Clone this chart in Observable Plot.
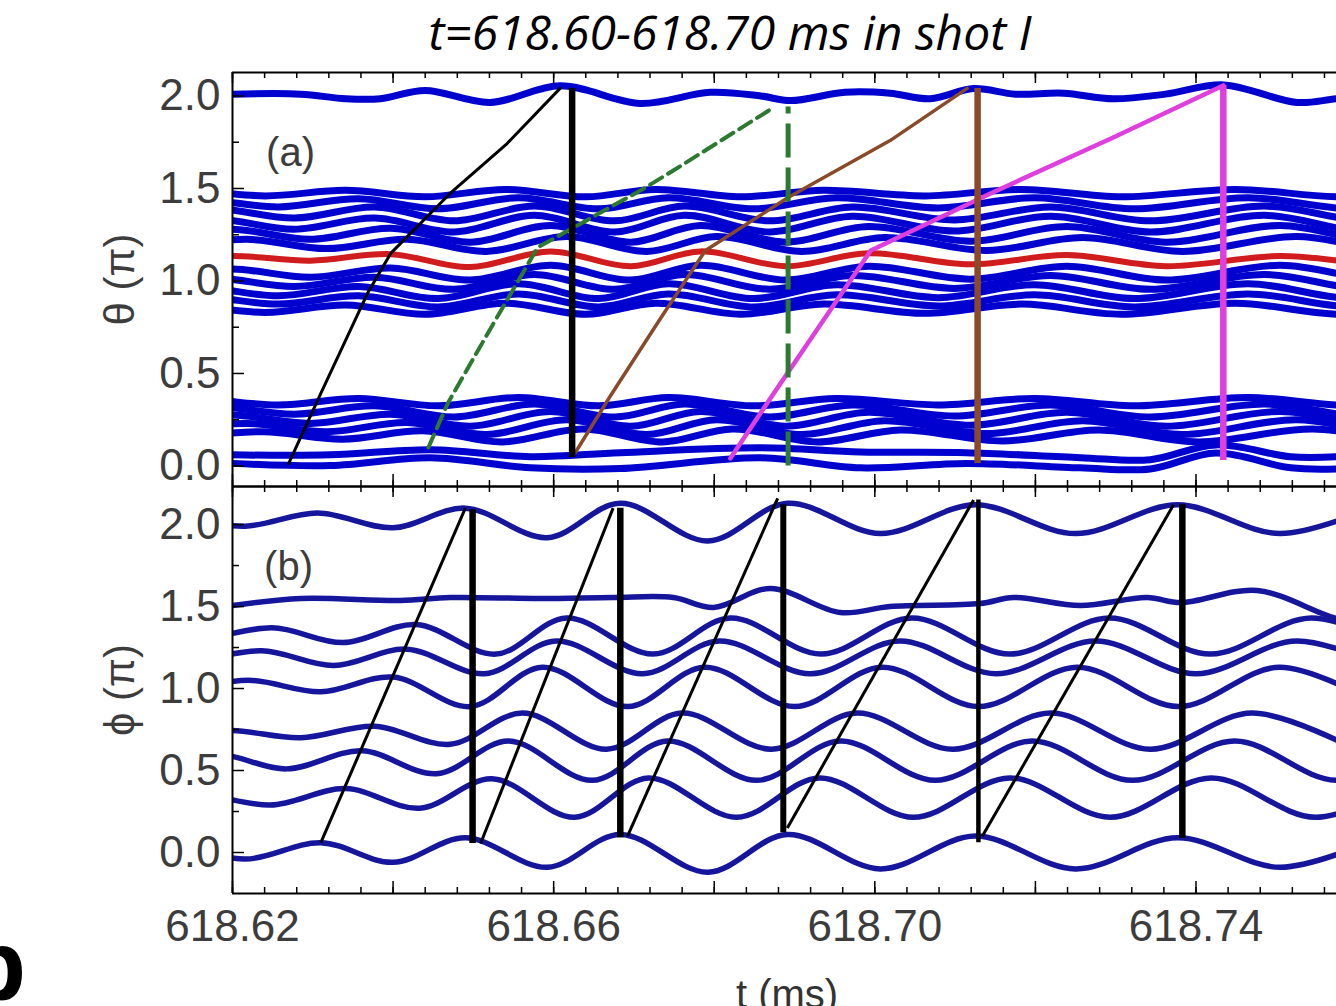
<!DOCTYPE html>
<html>
<head>
<meta charset="utf-8">
<script src="https://cdn.jsdelivr.net/npm/d3@7"></script>
<script src="https://cdn.jsdelivr.net/npm/@observablehq/plot@0.6"></script>
<style>
html,body{margin:0;padding:0;background:#fff;}
#wrap{position:relative;width:1336px;height:1006px;overflow:hidden;background:#fff;}
#wrap svg{position:absolute;left:0;top:0;}
#title{position:absolute;left:130px;width:1200px;top:5px;text-align:center;font-family:"Open Sans",sans-serif;font-style:italic;font-size:48px;line-height:54px;color:#000;}
#xlab{position:absolute;left:587px;width:400px;top:974px;text-align:center;font-family:"Liberation Sans",Arial,sans-serif;font-size:40px;line-height:40px;color:#333;}
#corner{position:absolute;left:-35px;top:915px;font-family:"Liberation Sans",Arial,sans-serif;font-weight:bold;font-size:100px;line-height:100px;color:#000;}
</style>
</head>
<body>
<div id="wrap">
  <div id="title">t=618.60-618.70 ms in shot I</div>
  <div id="xlab">t (ms)</div>
  <div id="corner">b</div>
</div>
<script>
// ---------- axes ----------
const xDomain = [618.62, 618.7575];
const thetaDomain = [-0.111, 2.127];
const phiDomain = [-0.25, 2.232];
const xLabelTicks = [618.62, 618.66, 618.70, 618.74];
const xMajorTicks = [618.62, 618.64, 618.66, 618.68, 618.70, 618.72, 618.74];
const xMinorTicks = d3.range(0, 35).map(i => 618.62 + i * 0.004);
const yLabelTicks = [0, 0.5, 1.0, 1.5, 2.0];
const yMinorTicks = [0.25, 0.75, 1.25, 1.75];

// ---------- panel (a): key times of the wavy field lines ----------
const tLagA = [618.6042, 618.6142, 618.6241, 618.6341, 618.6440, 618.6540, 618.6640, 618.6727, 618.6833, 618.6936, 618.7063, 618.7183, 618.7307, 618.7449, 618.7580, 618.7711];
const tLagB = [618.6058, 618.6158, 618.6257, 618.6357, 618.6456, 618.6556, 618.6656, 618.6743, 618.6849, 618.6952, 618.7079, 618.7199, 618.7323, 618.7465, 618.7596, 618.7727];
const tLagC = [618.6078, 618.6178, 618.6277, 618.6377, 618.6476, 618.6576, 618.6676, 618.6763, 618.6869, 618.6972, 618.7099, 618.7219, 618.7343, 618.7485, 618.7616, 618.7747];
const tLag0 = [618.6098, 618.6198, 618.6297, 618.6397, 618.6496, 618.6596, 618.6696, 618.6783, 618.6889, 618.6992, 618.7119, 618.7239, 618.7363, 618.7505, 618.7636, 618.7767];
const tLagD = [618.6118, 618.6218, 618.6317, 618.6417, 618.6516, 618.6616, 618.6716, 618.6803, 618.6909, 618.7012, 618.7139, 618.7259, 618.7383, 618.7525, 618.7656, 618.7787];
const tLagE = [618.6138, 618.6238, 618.6337, 618.6437, 618.6536, 618.6636, 618.6736, 618.6823, 618.6929, 618.7032, 618.7159, 618.7279, 618.7403, 618.7545, 618.7676, 618.7807];

// band around theta ~ 0.85-1.5 (upper lines, red line, lower lines)
const aU1 = [1.46, 1.49, 1.46, 1.49, 1.455, 1.495, 1.455, 1.495, 1.455, 1.49, 1.46, 1.495, 1.455, 1.495, 1.455, 1.49];
const aU2 = [1.40, 1.44, 1.40, 1.445, 1.39, 1.45, 1.39, 1.45, 1.39, 1.45, 1.395, 1.45, 1.39, 1.45, 1.39, 1.45];
const aU3 = [1.34, 1.39, 1.34, 1.40, 1.325, 1.405, 1.325, 1.405, 1.325, 1.40, 1.33, 1.40, 1.325, 1.405, 1.325, 1.40];
const aU4 = [1.285, 1.335, 1.28, 1.34, 1.265, 1.355, 1.265, 1.355, 1.265, 1.35, 1.27, 1.35, 1.265, 1.355, 1.265, 1.35];
const aU5 = [1.23, 1.28, 1.225, 1.285, 1.21, 1.30, 1.21, 1.30, 1.21, 1.295, 1.215, 1.295, 1.21, 1.30, 1.21, 1.295];
const aU6 = [1.18, 1.225, 1.175, 1.225, 1.16, 1.24, 1.16, 1.24, 1.16, 1.235, 1.165, 1.235, 1.16, 1.24, 1.16, 1.235];
const aRed = [1.10, 1.135, 1.11, 1.145, 1.075, 1.16, 1.08, 1.16, 1.08, 1.15, 1.09, 1.14, 1.08, 1.135, 1.09, 1.13];
const aL1 = [1.025, 1.065, 1.02, 1.07, 1.005, 1.085, 1.005, 1.085, 1.005, 1.08, 1.01, 1.08, 1.005, 1.085, 1.005, 1.08];
const aL2 = [0.975, 1.015, 0.97, 1.02, 0.955, 1.035, 0.955, 1.035, 0.955, 1.03, 0.96, 1.03, 0.955, 1.035, 0.955, 1.03];
const aL3 = [0.925, 0.965, 0.92, 0.97, 0.905, 0.985, 0.905, 0.985, 0.905, 0.98, 0.91, 0.98, 0.905, 0.985, 0.905, 0.98];
const aL4 = [0.88, 0.915, 0.875, 0.92, 0.86, 0.93, 0.86, 0.93, 0.86, 0.925, 0.865, 0.925, 0.86, 0.93, 0.86, 0.925];
const aL5 = [0.835, 0.865, 0.83, 0.87, 0.82, 0.88, 0.82, 0.88, 0.82, 0.875, 0.825, 0.875, 0.82, 0.88, 0.82, 0.875];
// band around theta ~ 0-0.35
const aS1 = [0.335, 0.36, 0.33, 0.365, 0.325, 0.37, 0.325, 0.37, 0.325, 0.365, 0.33, 0.365, 0.325, 0.37, 0.325, 0.365];
const aS2 = [0.285, 0.32, 0.28, 0.325, 0.265, 0.335, 0.265, 0.335, 0.265, 0.33, 0.27, 0.33, 0.265, 0.335, 0.265, 0.33];
const aS3 = [0.235, 0.275, 0.23, 0.28, 0.215, 0.295, 0.215, 0.295, 0.215, 0.29, 0.22, 0.29, 0.215, 0.295, 0.215, 0.29];
const aS4 = [0.19, 0.23, 0.185, 0.235, 0.17, 0.25, 0.17, 0.25, 0.17, 0.245, 0.175, 0.245, 0.17, 0.25, 0.17, 0.245];
const aS5 = [0.15, 0.185, 0.145, 0.19, 0.13, 0.20, 0.13, 0.20, 0.13, 0.195, 0.135, 0.195, 0.13, 0.20, 0.13, 0.195];
const tBot = [618.6200, 618.6322, 618.6447, 618.6571, 618.6683, 618.6858, 618.6982, 618.7114, 618.7256, 618.7343, 618.7425, 618.7518, 618.7575];
const aS6 = [0.060, 0.060, 0.088, 0.050, 0.072, 0.098, 0.076, 0.072, 0.045, 0.034, 0.114, 0.050, 0.050];
const aS7 = [0.014, 0.002, 0.044, -0.010, -0.014, 0.044, -0.010, 0.014, -0.010, -0.016, 0.070, -0.010, -0.016];
// single line near theta = 2
const aTopT = [618.6200, 618.6285, 618.6341, 618.6384, 618.6440, 618.6521, 618.6608, 618.6708, 618.6795, 618.6858, 618.6895, 618.6963, 618.7019, 618.7069, 618.7123, 618.7175, 618.7235, 618.7297, 618.7362, 618.7434, 618.7526, 618.7575, 618.7629];
const aTopV = [2.01, 2.01, 1.985, 1.985, 2.03, 1.965, 2.055, 1.96, 2.02, 2.0, 1.975, 2.02, 2.015, 1.985, 2.04, 2.01, 2.015, 1.985, 2.01, 2.06, 1.965, 1.985, 2.0];

// traced rotating points (panel a)
const blackT = [618.6270, 618.6310, 618.6368, 618.6397, 618.6471, 618.6542, 618.6608];
const blackV = [0.014, 0.392, 0.932, 1.149, 1.473, 1.743, 2.041];
const greenT = [618.6444, 618.6468, 618.6525, 618.6580, 618.6708, 618.6749, 618.6874];
const greenV = [0.100, 0.338, 0.770, 1.181, 1.489, 1.597, 1.938];
const brownT = [618.6627, 618.6671, 618.6733, 618.6789, 618.6892, 618.7019, 618.7115];
const brownV = [0.073, 0.381, 0.797, 1.165, 1.451, 1.759, 2.041];
const magT = [618.6820, 618.6874, 618.6995, 618.7144, 618.7297, 618.7434];
const magV = [0.041, 0.392, 1.165, 1.473, 1.776, 2.057];
// wrap-around jumps (panel a): black, green, brown, magenta
const jumpAT = [618.6623, 618.6892, 618.7128, 618.7434];
const jumpALo = [0.046, 0.0, 0.0135, 0.03];
const jumpAHi = [2.041, 1.94, 2.041, 2.057];

// ---------- panel (b) ----------
const b1T = [618.6129, 618.6216, 618.6306, 618.6400, 618.6490, 618.6592, 618.6683, 618.6792, 618.6891, 618.7007, 618.7125, 618.7250, 618.7377, 618.7505, 618.7629];
const b1V = [2.04, 1.99, 2.07, 1.98, 2.10, 1.92, 2.13, 1.90, 2.13, 1.945, 2.12, 1.945, 2.12, 1.945, 2.12];
const b2T = [618.6200, 618.6285, 618.6409, 618.6471, 618.6584, 618.6674, 618.6749, 618.6799, 618.6870, 618.6957, 618.7019, 618.7131, 618.7173, 618.7256, 618.7339, 618.7381, 618.7476, 618.7575, 618.7629];
const b2V = [1.506, 1.549, 1.537, 1.555, 1.549, 1.555, 1.555, 1.494, 1.610, 1.463, 1.500, 1.518, 1.555, 1.506, 1.555, 1.524, 1.598, 1.427, 1.384];
const b3T = [618.6155, 618.6249, 618.6338, 618.6429, 618.6528, 618.6616, 618.6724, 618.6820, 618.6933, 618.7046, 618.7168, 618.7292, 618.7418, 618.7544, 618.7673];
const b3V = [1.28, 1.37, 1.28, 1.39, 1.21, 1.43, 1.21, 1.43, 1.21, 1.43, 1.21, 1.43, 1.21, 1.43, 1.21];
const b4T = [618.6143, 618.6236, 618.6326, 618.6417, 618.6514, 618.6603, 618.6711, 618.6806, 618.6920, 618.7031, 618.7151, 618.7275, 618.7400, 618.7526, 618.7654];
const b4V = [1.15, 1.23, 1.14, 1.24, 1.09, 1.29, 1.09, 1.29, 1.09, 1.29, 1.09, 1.29, 1.09, 1.29, 1.09];
const b5T = [618.6127, 618.6220, 618.6310, 618.6400, 618.6496, 618.6586, 618.6692, 618.6788, 618.6900, 618.7009, 618.7129, 618.7252, 618.7378, 618.7504, 618.7633];
const b5V = [0.98, 1.05, 0.98, 1.07, 0.89, 1.13, 0.89, 1.13, 0.89, 1.13, 0.89, 1.13, 0.89, 1.13, 0.89];
const b6T = [618.6103, 618.6196, 618.6285, 618.6377, 618.6471, 618.6561, 618.6666, 618.6760, 618.6871, 618.6978, 618.7097, 618.7219, 618.7343, 618.7470, 618.7598];
const b6V = [0.71, 0.745, 0.70, 0.77, 0.66, 0.85, 0.63, 0.85, 0.63, 0.85, 0.63, 0.85, 0.63, 0.85, 0.63];
const b7T = [618.6085, 618.6180, 618.6267, 618.6361, 618.6454, 618.6544, 618.6648, 618.6742, 618.6853, 618.6957, 618.7075, 618.7196, 618.7321, 618.7448, 618.7576, 618.7704];
const b7V = [0.51, 0.60, 0.51, 0.62, 0.48, 0.68, 0.44, 0.68, 0.44, 0.68, 0.44, 0.68, 0.44, 0.68, 0.44, 0.68];
const b8T = [618.6160, 618.6247, 618.6341, 618.6433, 618.6523, 618.6626, 618.6718, 618.6828, 618.6931, 618.7048, 618.7168, 618.7293, 618.7419, 618.7549, 618.7676];
const b8V = [0.37, 0.29, 0.39, 0.27, 0.45, 0.215, 0.455, 0.215, 0.455, 0.215, 0.455, 0.215, 0.455, 0.215, 0.455];
const b9T = [618.6129, 618.6216, 618.6310, 618.6400, 618.6490, 618.6592, 618.6683, 618.6792, 618.6891, 618.7007, 618.7125, 618.7250, 618.7377, 618.7505, 618.7629];
const b9V = [0.05, -0.04, 0.06, -0.06, 0.09, -0.09, 0.11, -0.12, 0.11, -0.10, 0.10, -0.10, 0.09, -0.09, 0.09];
// saw-tooth trace (panel b)
const sawStartT = [618.6310, 618.6509, 618.6692, 618.6891, 618.7134];
const sawStartV = [0.06, 0.055, 0.10, 0.15, 0.10];
const sawEndT = [618.6490, 618.6674, 618.6879, 618.7123, 618.7372];
const sawEndV = [2.10, 2.10, 2.16, 2.15, 2.12];
const jumpBT = [618.6499, 618.6683, 618.6886, 618.7129, 618.7383];
const jumpBLo = [0.055, 0.09, 0.12, 0.06, 0.085];
const jumpBHi = [2.09, 2.10, 2.12, 2.15, 2.12];
const jumpBW = [6.5, 6.5, 6, 4.5, 6.5];

// ---------- build tables ----------
const rows = specs => specs.flatMap(s => s.t.map((t, i) => ({id: s.id, t, v: s.v[i]})));
const pts = (T, V) => T.map((t, i) => ({t, v: V[i]}));

const blueA = rows([
  {id: "U1", t: tLagA, v: aU1}, {id: "U2", t: tLagB, v: aU2}, {id: "U3", t: tLagC, v: aU3},
  {id: "U4", t: tLagC, v: aU4}, {id: "U5", t: tLag0, v: aU5}, {id: "U6", t: tLagD, v: aU6},
  {id: "L1", t: tLag0, v: aL1}, {id: "L2", t: tLagC, v: aL2}, {id: "L3", t: tLagB, v: aL3},
  {id: "L4", t: tLagB, v: aL4}, {id: "L5", t: tLagA, v: aL5},
  {id: "S1", t: tLagB, v: aS1}, {id: "S2", t: tLagC, v: aS2}, {id: "S3", t: tLag0, v: aS3},
  {id: "S4", t: tLagD, v: aS4}, {id: "S5", t: tLagE, v: aS5},
  {id: "S6", t: tBot, v: aS6}, {id: "S7", t: tBot, v: aS7},
  {id: "top", t: aTopT, v: aTopV}
]);
const redA = pts(tLag0, aRed);
const jumpsA = jumpAT.map((t, i) => ({t, lo: jumpALo[i], hi: jumpAHi[i]}));

const blueB = rows([
  {id: "b1", t: b1T, v: b1V}, {id: "b2", t: b2T, v: b2V}, {id: "b3", t: b3T, v: b3V},
  {id: "b4", t: b4T, v: b4V}, {id: "b5", t: b5T, v: b5V}, {id: "b6", t: b6T, v: b6V},
  {id: "b7", t: b7T, v: b7V}, {id: "b8", t: b8T, v: b8V}, {id: "b9", t: b9T, v: b9V}
]);
const sawB = sawStartT.map((t, i) => ({t1: t, v1: sawStartV[i], t2: sawEndT[i], v2: sawEndV[i]}));
const jumpsB = jumpBT.map((t, i) => ({t, lo: jumpBLo[i], hi: jumpBHi[i], w: jumpBW[i]}));

// ---------- drawing ----------
const W = 1336, H = 1006, ML = 232;
const BLUE_A = "#0000cf", BLUE_B = "#16169c", RED = "#d01c1c";
const GREEN = "#2b7a30", BROWN = "#8a4a2a", MAGENTA = "#df3fdf";
const FONT = "Liberation Sans, Arial, sans-serif";

function frameMarks(domainY, top, bottom) {
  const ph = bottom - top, pw = W - ML;
  return [
    Plot.ruleX([xDomain[0]], {stroke: "black", strokeWidth: 2}),
    Plot.ruleY([domainY[1]], {stroke: "black", strokeWidth: 2}),
    Plot.ruleY([domainY[0]], {stroke: "black", strokeWidth: 2}),
    Plot.tickX(xMinorTicks, {x: d => d, stroke: "black", strokeWidth: 1.5, insetBottom: ph - 6}),
    Plot.tickX(xMajorTicks, {x: d => d, stroke: "black", strokeWidth: 1.5, insetBottom: ph - 11}),
    Plot.tickX(xMinorTicks, {x: d => d, stroke: "black", strokeWidth: 1.5, insetTop: ph - 6}),
    Plot.tickX(xMajorTicks, {x: d => d, stroke: "black", strokeWidth: 1.5, insetTop: ph - 12}),
    Plot.tickY(yMinorTicks, {y: d => d, stroke: "black", strokeWidth: 1.5, insetRight: pw - 7}),
    Plot.tickY(yLabelTicks, {y: d => d, stroke: "black", strokeWidth: 1.5, insetRight: pw - 12}),
    Plot.axisY(yLabelTicks, {anchor: "left", tickSize: 0, tickPadding: 12, fontSize: 44, tickFormat: d3.format(".1f"), label: null})
  ];
}

const plotA = Plot.plot({
  width: W, height: H,
  marginLeft: ML, marginRight: 0, marginTop: 72, marginBottom: H - 486,
  x: {domain: xDomain, axis: null},
  y: {domain: thetaDomain, axis: null},
  style: {background: "transparent", color: "#3c3c3c", fontFamily: FONT},
  marks: [
    Plot.line(blueA, {x: "t", y: "v", z: "id", stroke: BLUE_A, strokeWidth: 7, curve: "catmull-rom", clip: true}),
    Plot.line(redA, {x: "t", y: "v", stroke: RED, strokeWidth: 6, curve: "catmull-rom", clip: true}),
    Plot.line(pts(blackT, blackV), {x: "t", y: "v", stroke: "black", strokeWidth: 3, clip: true}),
    Plot.line(pts(greenT, greenV), {x: "t", y: "v", stroke: GREEN, strokeWidth: 4, strokeDasharray: "14,7", clip: true}),
    Plot.line(pts(brownT, brownV), {x: "t", y: "v", stroke: BROWN, strokeWidth: 3.5, clip: true}),
    Plot.line(pts(magT, magV), {x: "t", y: "v", stroke: MAGENTA, strokeWidth: 4.5, clip: true}),
    Plot.ruleX([jumpsA[0]], {x: "t", y1: "lo", y2: "hi", stroke: "black", strokeWidth: 6.5}),
    Plot.ruleX([jumpsA[1]], {x: "t", y1: "lo", y2: "hi", stroke: GREEN, strokeWidth: 5, strokeDasharray: "34,10"}),
    Plot.ruleX([jumpsA[2]], {x: "t", y1: "lo", y2: "hi", stroke: BROWN, strokeWidth: 6.5}),
    Plot.ruleX([jumpsA[3]], {x: "t", y1: "lo", y2: "hi", stroke: MAGENTA, strokeWidth: 6.5}),
    ...frameMarks(thetaDomain, 72, 486),
    Plot.text(["(a)"], {text: d => d, frameAnchor: "top-left", dx: 58, dy: 81, textAnchor: "middle", lineAnchor: "middle", fontSize: 40, fill: "#3c3c3c"}),
    Plot.text(["θ (π)"], {text: d => d, frameAnchor: "left", dx: -112, rotate: -90, textAnchor: "middle", lineAnchor: "middle", fontSize: 42, fill: "#3c3c3c"})
  ]
});

const plotB = Plot.plot({
  width: W, height: H,
  marginLeft: ML, marginRight: 0, marginTop: 486, marginBottom: H - 893,
  x: {domain: xDomain, axis: null},
  y: {domain: phiDomain, axis: null},
  style: {background: "transparent", color: "#3c3c3c", fontFamily: FONT},
  marks: [
    Plot.line(blueB, {x: "t", y: "v", z: "id", stroke: BLUE_B, strokeWidth: 5.5, curve: "catmull-rom", clip: true}),
    Plot.link(sawB, {x1: "t1", y1: "v1", x2: "t2", y2: "v2", stroke: "black", strokeWidth: 3}),
    Plot.ruleX(jumpsB, {x: "t", y1: "lo", y2: "hi", stroke: "black", strokeWidth: d => d.w}),
    ...frameMarks(phiDomain, 486, 893),
    Plot.axisX(xLabelTicks, {anchor: "bottom", tickSize: 0, tickPadding: 16, fontSize: 44, tickFormat: d3.format(".2f"), label: null}),
    Plot.text(["(b)"], {text: d => d, frameAnchor: "top-left", dx: 56, dy: 81, textAnchor: "middle", lineAnchor: "middle", fontSize: 40, fill: "#3c3c3c"}),
    Plot.text(["ϕ (π)"], {text: d => d, frameAnchor: "left", dx: -112, rotate: -90, textAnchor: "middle", lineAnchor: "middle", fontSize: 42, fill: "#3c3c3c"})
  ]
});

const wrap = document.getElementById("wrap");
wrap.insertBefore(plotB, wrap.firstChild);
wrap.insertBefore(plotA, wrap.firstChild);
</script>
</body>
</html>
